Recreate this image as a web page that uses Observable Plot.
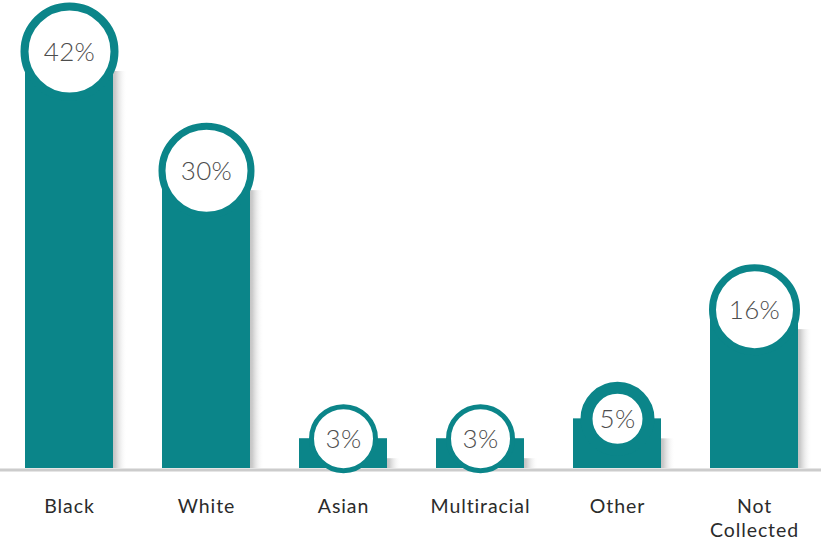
<!DOCTYPE html>
<html>
<head>
<meta charset="utf-8">
<script src="https://cdn.jsdelivr.net/npm/d3@7"></script>
<script src="https://cdn.jsdelivr.net/npm/@observablehq/plot@0.6"></script>
<style>
  html, body { margin: 0; padding: 0; background: #fff; }
  #chart svg { display: block; }
</style>
</head>
<body>
<div id="chart"></div>
<script>
// Data
const categories = ["Black", "White", "Asian", "Multiracial", "Other", "Not Collected"];
const values = [42, 30, 3, 3, 5, 16];
const tickLabels = ["Black", "White", "Asian", "Multiracial", "Other", "Not\nCollected"];

// Styling (ring radius and ring thickness per bar, as drawn in the reference)
const ringRadius = [45, 44.5, 32, 32, 31, 42];
const ringWidth = [8, 7, 5, 5, 12, 7];

const teal = "#0b8589";

const data = categories.map((c, i) => ({
  category: c,
  value: values[i],
  label: values[i] + "%",
  tick: tickLabels[i],
  r: ringRadius[i],
  sw: ringWidth[i]
}));

const defs = () => {
  const svgNS = "http://www.w3.org/2000/svg";
  const g = document.createElementNS(svgNS, "defs");
  g.innerHTML = `
    <linearGradient id="shadowGrad" x1="0" y1="0" x2="1" y2="0">
      <stop offset="0" stop-color="#b5b5b5" stop-opacity="1"/>
      <stop offset="0.35" stop-color="#c6c6c6" stop-opacity="0.9"/>
      <stop offset="1" stop-color="#ffffff" stop-opacity="0"/>
    </linearGradient>`;
  return g;
};

const chart = Plot.plot({
  width: 821,
  height: 541,
  marginTop: 0,
  marginBottom: 73,
  marginLeft: 0,
  marginRight: 0,
  style: { background: "#fff", overflow: "visible" },
  x: { type: "band", domain: categories, range: [23, 800], paddingInner: 0.361, paddingOuter: 0, axis: null },
  y: { domain: [0, 42], range: [468, 51], axis: null },
  r: { type: "identity" },
  marks: [
    defs,
    // soft shadow to the right of each bar
    Plot.barY(data, {
      x: "category", y: "value",
      fill: "url(#shadowGrad)",
      insetLeft: 70, dx: 14, insetTop: 20
    }),
    // bars
    Plot.barY(data, { x: "category", y: "value", fill: teal }),
    // baseline
    Plot.ruleY([0], { stroke: "#cccccc", strokeWidth: 3, dy: 1.5 }),
    // rings
    Plot.dot(data, {
      x: "category", y: "value",
      r: "r", strokeWidth: "sw",
      fill: "#fff", stroke: teal
    }),
    // percentage labels
    Plot.text(data, {
      x: "category", y: "value", text: "label",
      fontSize: 26, fill: "#4d4d4d", fontWeight: 300,
      fontFamily: "Lato, 'Open Sans', sans-serif", dy: 1
    }),
    // category labels
    Plot.text(data, {
      x: "category", frameAnchor: "bottom", text: "tick",
      lineAnchor: "top", dy: 28, lineHeight: 1.22,
      fontSize: 19.5, fill: "#2b2b2b",
      fontFamily: "Lato, 'Open Sans', sans-serif"
    })
  ]
});

// slightly wider tracking, as in the reference typeface
const textGroups = chart.querySelectorAll('g[aria-label="text"]');
if (textGroups.length >= 2) {
  textGroups[0].style.letterSpacing = "0.3px";
  textGroups[1].style.letterSpacing = "0.9px";
}

document.getElementById("chart").appendChild(chart);
</script>
</body>
</html>
